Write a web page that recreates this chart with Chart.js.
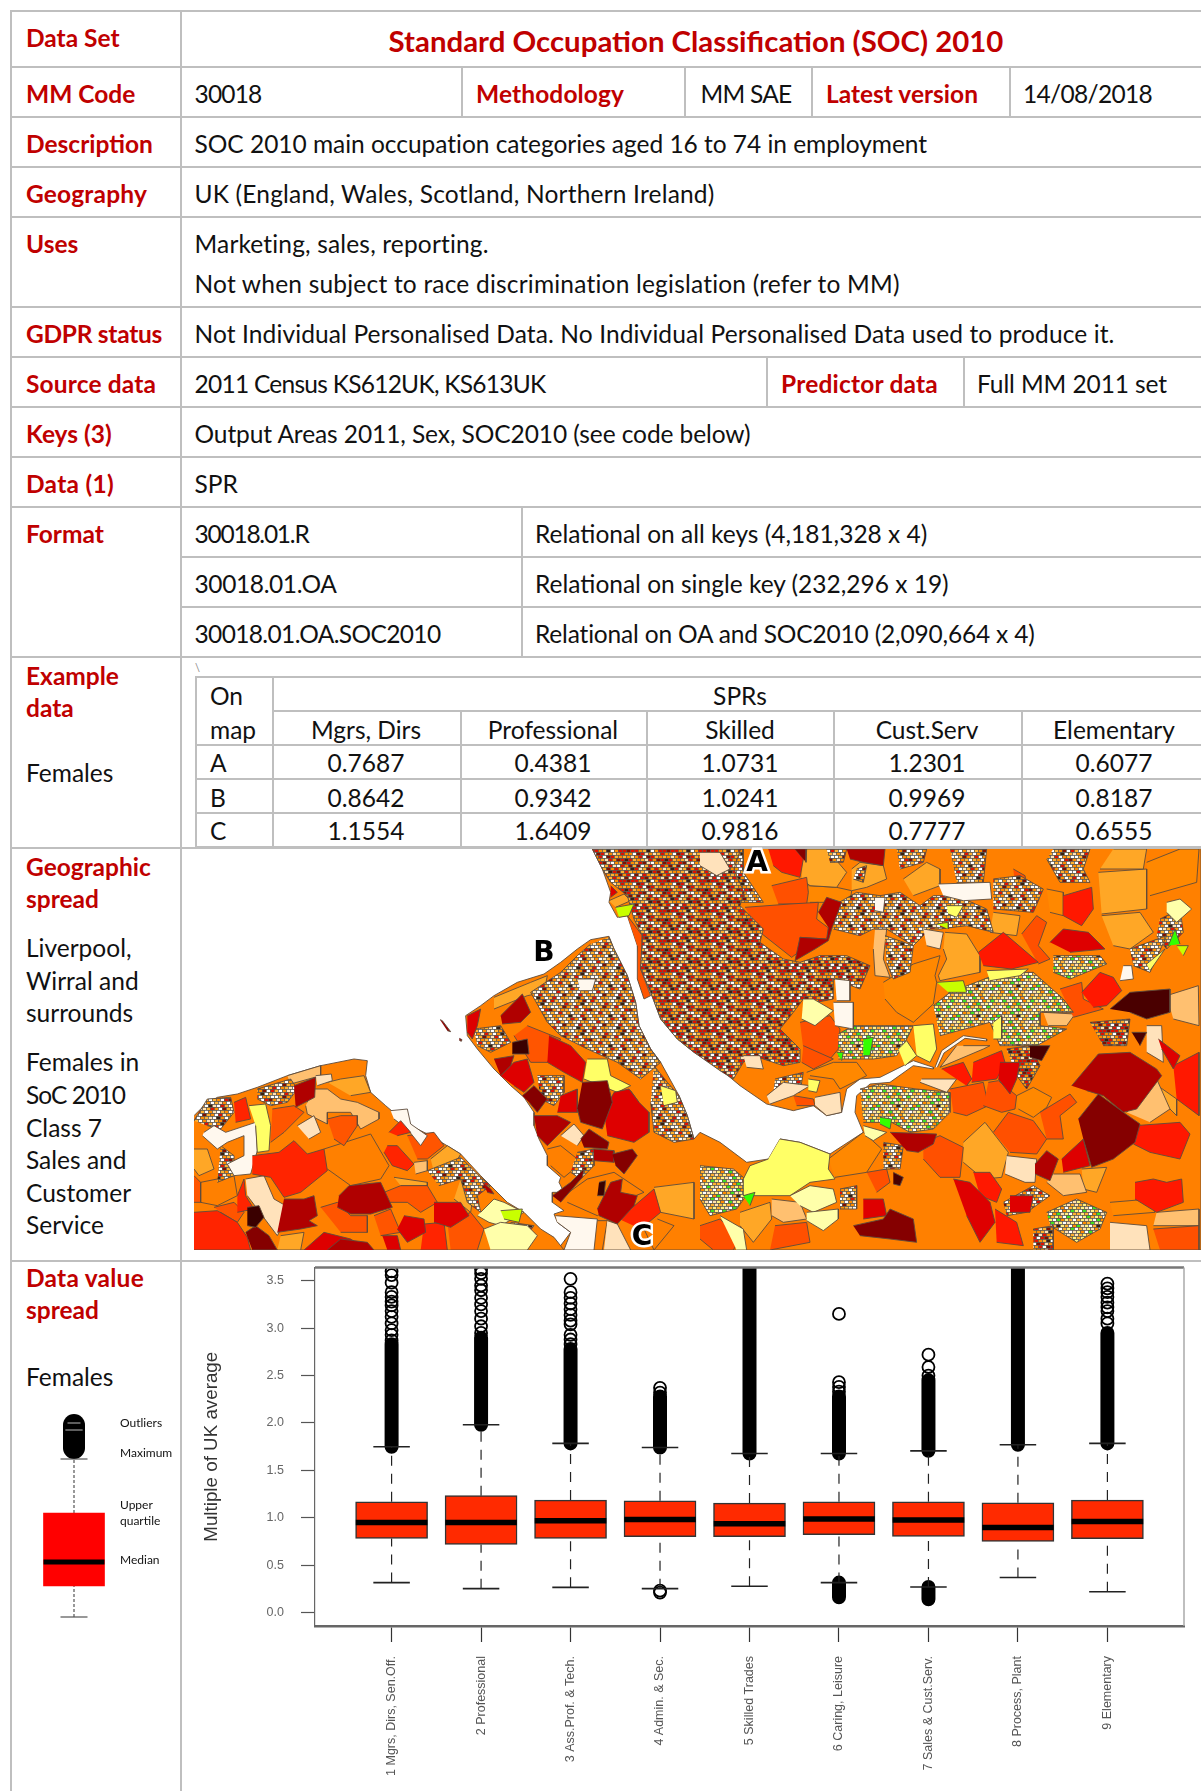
<!DOCTYPE html>
<html>
<head>
<meta charset="utf-8">
<script src="https://cdn.jsdelivr.net/npm/chart.js@4"></script>
<style>
html, body { margin: 0; padding: 0; background: #fff; overflow: hidden; }
#page { position: relative; width: 1201px; height: 1791px; overflow: hidden; font-family: Lato, sans-serif; color: #111; }
#page span { position: absolute; white-space: nowrap; font-size: 24.5px; line-height: 30px; transform: translateY(-50%); }
#page span.r { color: #C00000; font-weight: bold; }
#page span.c { transform: translate(-50%, -50%); }
#page span.k { font-size: 12px; line-height: 14px; }
#page span.m { font-family: "DejaVu Sans", sans-serif; font-weight: bold; font-size: 28px; color: #000; -webkit-text-stroke: 5px #fff; paint-order: stroke fill; transform: translate(-50%, -50%); }
#page i { position: absolute; background: #BFBFBF; display: block; }
canvas { position: absolute; display: block; }
</style>
</head>
<body>
<div id="page">
<!-- rules -->
<i style="left:11px;top:10px;width:1190px;height:2px"></i>
<i style="left:11px;top:66px;width:1190px;height:2px"></i>
<i style="left:11px;top:116px;width:1190px;height:2px"></i>
<i style="left:11px;top:166px;width:1190px;height:2px"></i>
<i style="left:11px;top:216px;width:1190px;height:2px"></i>
<i style="left:11px;top:306px;width:1190px;height:2px"></i>
<i style="left:11px;top:356px;width:1190px;height:2px"></i>
<i style="left:11px;top:406px;width:1190px;height:2px"></i>
<i style="left:11px;top:456px;width:1190px;height:2px"></i>
<i style="left:11px;top:506px;width:1190px;height:2px"></i>
<i style="left:181px;top:556px;width:1020px;height:2px"></i>
<i style="left:181px;top:606px;width:1020px;height:2px"></i>
<i style="left:11px;top:656px;width:1190px;height:2px"></i>
<i style="left:11px;top:847px;width:1190px;height:2px"></i>
<i style="left:11px;top:1260px;width:1190px;height:2px"></i>
<i style="left:10px;top:10px;width:2px;height:1781px"></i>
<i style="left:180px;top:10px;width:2px;height:1781px"></i>
<i style="left:461px;top:67px;width:1.5px;height:50px"></i>
<i style="left:684px;top:67px;width:1.5px;height:50px"></i>
<i style="left:811px;top:67px;width:1.5px;height:50px"></i>
<i style="left:1009px;top:67px;width:1.5px;height:50px"></i>
<i style="left:766px;top:357px;width:1.5px;height:50px"></i>
<i style="left:963px;top:357px;width:1.5px;height:50px"></i>
<i style="left:521px;top:507px;width:1.5px;height:150px"></i>
<!-- example table rules -->
<i style="left:195px;top:676px;width:1006px;height:2px"></i>
<i style="left:272px;top:710px;width:929px;height:2px"></i>
<i style="left:195px;top:744px;width:1006px;height:2px"></i>
<i style="left:195px;top:778px;width:1006px;height:2px"></i>
<i style="left:195px;top:812px;width:1006px;height:2px"></i>
<i style="left:195px;top:846px;width:1006px;height:2px"></i>
<i style="left:195px;top:677px;width:1.5px;height:170px"></i>
<i style="left:272px;top:677px;width:1.5px;height:170px"></i>
<i style="left:460px;top:711px;width:1.5px;height:136px"></i>
<i style="left:646px;top:711px;width:1.5px;height:136px"></i>
<i style="left:833px;top:711px;width:1.5px;height:136px"></i>
<i style="left:1021px;top:711px;width:1.5px;height:136px"></i>

<!-- left column -->
<span class="r" style="left:26px;top:38px">Data Set</span>
<span class="r" style="left:26px;top:94px">MM Code</span>
<span class="r" style="left:26px;top:144px">Description</span>
<span class="r" style="left:26px;top:194px" data-w="121">Geography</span>
<span class="r" style="left:26px;top:244px">Uses</span>
<span class="r" style="left:26px;top:334px" data-w="136">GDPR status</span>
<span class="r" style="left:26px;top:384px" data-w="130">Source data</span>
<span class="r" style="left:26px;top:434px">Keys (3)</span>
<span class="r" style="left:26px;top:484px" data-w="88">Data (1)</span>
<span class="r" style="left:26px;top:534px">Format</span>
<span class="r" style="left:26px;top:676px">Example</span>
<span class="r" style="left:26px;top:708px">data</span>
<span style="left:26px;top:773px">Females</span>
<span class="r" style="left:26px;top:867px">Geographic</span>
<span class="r" style="left:26px;top:899px">spread</span>
<span style="left:26px;top:948px">Liverpool,</span>
<span style="left:26px;top:981px">Wirral and</span>
<span style="left:26px;top:1013px">surrounds</span>
<span style="left:26px;top:1062px">Females in</span>
<span style="left:26px;top:1095px" data-w="99">SoC 2010</span>
<span style="left:26px;top:1128px">Class 7</span>
<span style="left:26px;top:1160px">Sales and</span>
<span style="left:26px;top:1193px">Customer</span>
<span style="left:26px;top:1225px">Service</span>
<span class="r" style="left:26px;top:1278px" data-w="118">Data value</span>
<span class="r" style="left:26px;top:1310px">spread</span>
<span style="left:26px;top:1377px">Females</span>

<!-- main column -->
<span class="r c" style="left:696px;top:41px;font-size:29.4px">Standard Occupation Classification (SOC) 2010</span>
<span style="left:194.5px;top:94px" data-w="67">30018</span>
<span class="r" style="left:476px;top:94px" data-w="148">Methodology</span>
<span style="left:700.5px;top:94px" data-w="91">MM SAE</span>
<span class="r" style="left:826px;top:94px">Latest version</span>
<span style="left:1023px;top:94px" data-w="129">14/08/2018</span>
<span style="left:194.5px;top:144px" data-w="733">SOC 2010 main occupation categories aged 16 to 74 in employment</span>
<span style="left:194.5px;top:194px" data-w="520">UK (England, Wales, Scotland, Northern Ireland)</span>
<span style="left:194.5px;top:244px" data-w="295">Marketing, sales, reporting.</span>
<span style="left:194.5px;top:284px" data-w="706">Not when subject to race discrimination legislation (refer to MM)</span>
<span style="left:194.5px;top:334px" data-w="920">Not Individual Personalised Data. No Individual Personalised Data used to produce it.</span>
<span style="left:194.5px;top:384px" data-w="351">2011 Census KS612UK, KS613UK</span>
<span class="r" style="left:781px;top:384px" data-w="157">Predictor data</span>
<span style="left:977px;top:384px" data-w="190">Full MM 2011 set</span>
<span style="left:194.5px;top:434px" data-w="556">Output Areas 2011, Sex, SOC2010 (see code below)</span>
<span style="left:194.5px;top:484px">SPR</span>
<span style="left:194.5px;top:534px" data-w="114">30018.01.R</span>
<span style="left:535px;top:534px">Relational on all keys (4,181,328 x 4)</span>
<span style="left:194.5px;top:584px" data-w="142">30018.01.OA</span>
<span style="left:535px;top:584px">Relational on single key (232,296 x 19)</span>
<span style="left:194.5px;top:634px" data-w="246">30018.01.OA.SOC2010</span>
<span style="left:535px;top:634px" data-w="500">Relational on OA and SOC2010 (2,090,664 x 4)</span>

<!-- example table -->
<span style="left:195px;top:668px;font-size:11px;color:#888">\</span>
<span style="left:210px;top:696px">On</span>
<span style="left:210px;top:730px">map</span>
<span class="c" style="left:740px;top:696px">SPRs</span>
<span class="c" style="left:366px;top:730px">Mgrs, Dirs</span>
<span class="c" style="left:553px;top:730px">Professional</span>
<span class="c" style="left:740px;top:730px">Skilled</span>
<span class="c" style="left:927px;top:730px">Cust.Serv</span>
<span class="c" style="left:1114px;top:730px">Elementary</span>
<span style="left:210px;top:763px">A</span>
<span class="c" style="left:366px;top:763px">0.7687</span>
<span class="c" style="left:553px;top:763px">0.4381</span>
<span class="c" style="left:740px;top:763px">1.0731</span>
<span class="c" style="left:927px;top:763px">1.2301</span>
<span class="c" style="left:1114px;top:763px">0.6077</span>
<span style="left:210px;top:798px">B</span>
<span class="c" style="left:366px;top:798px">0.8642</span>
<span class="c" style="left:553px;top:798px">0.9342</span>
<span class="c" style="left:740px;top:798px">1.0241</span>
<span class="c" style="left:927px;top:798px">0.9969</span>
<span class="c" style="left:1114px;top:798px">0.8187</span>
<span style="left:210px;top:831px">C</span>
<span class="c" style="left:366px;top:831px">1.1554</span>
<span class="c" style="left:553px;top:831px">1.6409</span>
<span class="c" style="left:740px;top:831px">0.9816</span>
<span class="c" style="left:927px;top:831px">0.7777</span>
<span class="c" style="left:1114px;top:831px">0.6555</span>

<canvas id="map" width="1007" height="401" style="left:194px;top:849px"></canvas>
<span class="m" style="left:757px;top:862px">A</span>
<span class="m" style="left:544px;top:952px">B</span>
<span class="m" style="left:642px;top:1236px">C</span>

<canvas id="key" width="108" height="230" style="left:20px;top:1400px"></canvas>
<span class="k" style="left:120px;top:1423px">Outliers</span>
<span class="k" style="left:120px;top:1453px">Maximum</span>
<span class="k" style="left:120px;top:1505px">Upper</span>
<span class="k" style="left:120px;top:1521px">quartile</span>
<span class="k" style="left:120px;top:1560px">Median</span>

<canvas id="boxes" width="1019" height="535" style="left:182px;top:1243px"></canvas>
</div>

<script>
// box plot
var categories = ["1 Mgrs, Dirs, Sen.Off.", "2 Professional", "3 Ass.Prof. & Tech.", "4 Admin. & Sec.", "5 Skilled Trades",
    "6 Caring, Leisure", "7 Sales & Cust.Serv.", "8 Process, Plant", "9 Elementary"];
var yTicks = [0, 0.5, 1, 1.5, 2, 2.5, 3, 3.5];
var whiskerLow = [0.315, 0.251, 0.265, 0.251, 0.276, 0.315, 0.269, 0.369, 0.219];
var boxLow = [0.781, 0.717, 0.781, 0.799, 0.799, 0.82, 0.803, 0.749, 0.778];
var medians = [0.949, 0.949, 0.967, 0.982, 0.935, 0.985, 0.975, 0.896, 0.96];
var boxHigh = [1.168, 1.232, 1.186, 1.179, 1.154, 1.168, 1.168, 1.157, 1.186];
var whiskerHigh = [1.748, 1.98, 1.784, 1.741, 1.677, 1.677, 1.705, 1.77, 1.784];
// solid runs of overlapping outliers above the whisker
var solidTop = [2.83, 2.9, 2.78, 2.28, 3.7, 2.28, 2.45, 3.7, 2.95];
// solid runs below the whisker, only two groups have them
var solidLowFrom = [null, null, null, null, null, 0.16, 0.14, null, null];
var outliers = [
    [2.87, 2.93, 2.98, 3.05, 3.12, 3.18, 3.24, 3.28, 3.33, 3.38, 3.48, 3.56, 3.6],
    [2.95, 3.02, 3.1, 3.18, 3.25, 3.32, 3.4, 3.45, 3.52, 3.58, 3.62],
    [2.83, 2.88, 2.93, 3.04, 3.08, 3.14, 3.2, 3.26, 3.32, 3.38, 3.52],
    [0.21, 0.23, 2.32, 2.37],
    [],
    [2.33, 2.38, 2.43, 3.15],
    [2.5, 2.59, 2.72],
    [],
    [3.05, 3.1, 3.18, 3.22, 3.27, 3.33, 3.38, 3.42, 3.47]
];

// the small key in the left column, in units of its own
var keyWhisker = [0, 1.58];
var keyBox = [0.31, 1.04];
var keyMedian = 0.55;
var keySolid = [1.69, 1.92];

// map outlines in map units (three to a page pixel)
var mainland = [1195,0, 1225,60, 1250,130, 1245,160, 1270,205, 1300,200, 1310,230, 1330,290, 1340,360, 1370,430, 1400,510, 1450,570, 1500,610,
    1578,660, 1638,710, 1718,765, 1798,785, 1858,770, 1898,800, 1943,790, 1958,720, 1998,690, 2058,685, 2128,650, 2158,635, 2218,655,
    2218,660, 2158,650, 2088,700, 2028,705, 1988,740, 1983,790, 2008,850, 1908,915, 1818,880, 1758,870, 1723,930, 1658,940, 1578,880, 1518,850,
    1500,870, 1480,800, 1455,740, 1400,640, 1370,600, 1335,530, 1325,460, 1300,380, 1260,300, 1245,262, 1190,272, 1150,300, 1100,340, 1050,375,
    970,400, 900,440, 860,470, 815,500, 820,560, 850,600, 900,660, 950,710, 990,745, 1020,790, 1020,830, 1035,870, 1060,920, 1060,950, 1100,985,
    1095,1000, 1110,1030, 1075,1030, 1075,1060, 1110,1085, 1080,1095, 1090,1120, 1130,1150, 1090,1203, 3021,1203, 3021,0];
var wales = [0,800, 30,770, 70,745, 130,735, 190,715, 280,680, 380,650, 480,630, 520,635, 515,680, 530,730, 575,770, 640,825, 710,860, 800,915,
    860,980, 940,1060, 990,1090, 1040,1140, 1080,1165, 1110,1203, 0,1203];
var islands = [[738,512, 745,515, 770,548, 760,545], [796,568, 804,572, 802,577, 796,574]];

// west half of the map
var westOrange = [[390,900, 530,855, 585,950, 560,990, 470,1010, 400,960], [20,1000, 120,980, 130,1040, 70,1070, 20,1060], [1110,1040, 1180,990, 1260,970, 1350,1030, 1300,1050, 1210,1100, 1120,1060],
    [1275,740, 1310,725, 1335,760, 1305,785, 1280,770], [1060,900, 1100,890, 1150,930, 1140,960, 1110,985, 1070,950], [1195,1115, 1240,1115, 1225,1203, 1190,1203], [1390,1110, 1440,1130, 1380,1203, 1350,1140]];
var westLight = [[710,930, 760,890, 800,915, 770,970, 720,970], [800,990, 840,1020, 830,1090, 780,1050], [0,900, 40,900, 60,960, 15,980, 0,960], [1380,1015, 1500,1000, 1500,1110, 1400,1090],
    [1340,280, 1380,280, 1380,320, 1350,380, 1340,350], [1245,155, 1290,135, 1310,155, 1265,175], [400,700, 440,690, 510,680, 530,730, 470,740],
    [900,445, 1010,400, 1060,380, 1050,430, 1000,440, 900,480], [260,1160, 330,1150, 320,1203, 250,1203], [600,985, 700,1000, 700,1010, 620,1010]];
var westPale = [[280,680, 380,650, 380,680, 290,705], [340,760, 350,720, 400,720, 440,750, 490,760, 555,790, 555,810, 500,840, 470,790, 400,790, 400,825, 340,795, 335,770], [660,940, 700,935, 700,965, 665,975]];
var westDeep = [[400,810, 440,800, 490,800, 490,830, 450,890, 420,870], [235,780, 300,770, 330,790, 270,850, 230,880], [640,860, 720,850, 750,890, 700,930, 670,930], [1300,200, 1345,260, 1345,280, 1340,360, 1370,440, 1350,450, 1330,390, 1330,290],
    [570,1030, 620,1010, 700,1010, 730,1060, 680,1090, 640,1060, 580,1060], [380,1075, 430,1060, 470,1100, 520,1100, 520,1150, 440,1150], [760,1120, 830,1090, 870,1140, 850,1203, 770,1203], [60,1075, 120,1060, 150,1090, 130,1120, 80,1090],
    [1000,530, 1100,570, 1060,640, 1010,640, 960,560], [0,980, 20,1000, 20,1060, 0,1060], [540,1100, 590,1080, 620,1150, 560,1160]];
var westCream = [[365,680, 412,675, 415,695, 370,710], [310,830, 360,800, 380,850, 345,870], [155,990, 210,980, 240,1050, 275,1070, 270,1120, 250,1160, 205,1100, 160,1040], [1100,860, 1140,825, 1170,860, 1150,890], [1240,1115, 1270,1125, 1310,1203, 1230,1203]];
var westWhite = [[30,850, 60,830, 95,850, 185,820, 190,905, 170,975, 120,980, 100,945, 150,920, 150,860, 100,880, 70,900, 25,860], [590,785, 640,780, 650,825, 700,860, 680,890, 640,840, 600,810], [1085,1100, 1210,1110, 1200,1203, 1110,1203, 1130,1150, 1090,1120], [1150,390, 1205,390, 1195,425, 1160,425]];
var westYellow = [[165,770, 215,765, 230,830, 225,905, 190,910, 185,830], [1180,630, 1240,630, 1250,680, 1310,710, 1270,730, 1170,690], [1400,710, 1445,725, 1450,760, 1410,770]];
var westPaleYellow = [[860,1090, 900,1050, 930,1060, 990,1090, 920,1130, 885,1120, 850,1100], [870,1140, 920,1120, 1000,1130, 1030,1160, 1000,1203, 890,1203]];
var westLime = [[920,1085, 985,1080, 975,1120, 930,1110], [1265,175, 1320,165, 1305,200, 1275,205]];
var westMixed = [[1245,265, 1260,300, 1300,380, 1325,460, 1335,530, 1370,600, 1400,640, 1340,690, 1270,640, 1180,600, 1100,560, 1060,520, 1010,430, 1100,370, 1150,320, 1190,285],
    [1380,650, 1420,700, 1455,740, 1480,800, 1500,870, 1440,880, 1380,850, 1370,760], [0,815, 40,750, 110,745, 120,790, 80,840, 40,830], [190,720, 290,690, 310,720, 280,760, 230,770, 190,750],
    [700,965, 800,925, 860,985, 890,1010, 850,1040, 860,1090, 820,1060, 800,990, 735,1010], [840,540, 920,530, 950,580, 890,610, 850,590], [1030,680, 1110,680, 1110,730, 1080,770, 1040,750],
    [1150,910, 1200,900, 1200,950, 1160,990, 1130,970], [950,1120, 1020,1130, 990,1170, 950,1160], [70,1000, 120,980, 120,920, 80,890]];
var westDense = [[1195,0, 1225,60, 1250,100, 1300,140, 1320,210, 1345,260, 1340,360, 1370,430, 1400,510, 1450,570, 1500,610, 1578,665, 1618,690, 1648,640, 1678,620, 1768,650, 1818,640, 1818,600, 1758,540,
    1798,490, 1828,450, 1868,460, 1918,450, 1918,390, 1998,420, 2028,350, 1958,320, 1878,320, 1818,340, 1768,330, 1698,280, 1708,240, 1638,170, 1650,130, 1620,60, 1640,0]];
var westRed = [[175,920, 255,910, 300,875, 340,915, 390,900, 400,965, 320,1030, 270,1045, 230,985, 175,975], [585,850, 620,815, 650,850, 610,860], [580,890, 610,890, 660,945, 640,965, 595,950, 570,910],
    [0,1090, 70,1085, 130,1120, 160,1165, 170,1203, 0,1203], [690,1125, 750,1120, 760,1203, 680,1203], [120,760, 155,745, 170,810, 125,820], [1275,1110, 1380,1020, 1400,1090, 1340,1140], [130,1040, 150,990, 155,1040, 180,1080, 130,1090]];
var westCrimson = [[630,1100, 690,1110, 695,1150, 640,1180, 610,1140], [720,1060, 800,1060, 825,1100, 770,1135, 720,1120], [330,1203, 390,1150, 470,1170, 520,1203], [565,1160, 610,1160, 620,1203, 580,1203],
    [920,680, 960,640, 1000,630, 1020,700, 990,730, 960,710], [1065,560, 1130,590, 1175,640, 1165,700, 1110,670, 1060,640], [1230,790, 1260,730, 1305,720, 1335,760, 1365,790, 1365,850, 1320,880, 1240,860],
    [820,500, 860,480, 850,530, 835,570, 820,550], [1250,110, 1270,130, 1250,145], [1100,740, 1150,720, 1150,790, 1090,790]];
var westDark = [[270,1050, 330,1050, 360,1040, 370,1100, 345,1115, 370,1130, 320,1140, 250,1150], [435,1040, 465,1010, 560,1000, 595,1075, 530,1095, 470,1095, 430,1075], [300,710, 365,685, 362,745, 305,775],
    [400,1203, 440,1170, 520,1180, 540,1203], [920,500, 985,435, 1010,490, 980,520, 925,525], [900,630, 960,620, 950,650, 920,680], [1020,800, 1090,800, 1130,820, 1100,850, 1060,890, 1030,860],
    [1200,900, 1260,905, 1260,940, 1200,935], [1210,1080, 1250,1000, 1285,990, 1280,1030, 1330,1040, 1320,1070, 1270,1125, 1215,1100], [865,1000, 890,1020, 900,1035, 880,1030]];
var westMaroon = [[155,1150, 185,1130, 225,1160, 250,1203, 175,1203], [985,740, 1020,710, 1060,750, 1030,790, 1005,760], [1165,700, 1240,695, 1255,760, 1225,840, 1160,820, 1150,780], [1075,1040, 1130,1000, 1170,960, 1165,985, 1100,1060],
    [1255,915, 1315,900, 1330,920, 1290,975, 1265,950], [1160,870, 1185,840, 1245,880, 1240,900, 1170,895]];
var westBlack = [[160,1075, 195,1070, 210,1105, 185,1135, 160,1130], [955,580, 1000,570, 1005,615, 955,615], [1215,1000, 1235,995, 1230,1040, 1210,1040]];

// east half of the map, in its own crop, shifted when it is drawn
var eastOrange = [[325,110, 410,115, 455,125, 450,160, 330,160], [550,400, 640,345, 720,320, 705,380, 710,400, 700,465, 640,520, 590,490, 555,450], [385,930, 490,850, 545,900, 500,970, 405,985],
    [950,740, 1000,715, 1055,745, 1040,775, 1000,805, 955,780], [320,670, 400,640, 470,640, 500,680, 420,720, 400,690, 330,680], [1230,1060, 1350,1050, 1365,1090, 1240,1100], [1340,40, 1440,0, 1497,0, 1490,100, 1350,140], [1040,120, 1090,130, 1090,200, 1050,190]];
var eastLight = [[310,0, 380,0, 440,70, 410,115, 330,110, 305,90], [455,60, 480,40, 550,50, 560,90, 500,115, 455,125], [735,250, 800,255, 840,320, 840,370, 720,395, 715,380, 740,330, 730,300], [1195,70, 1340,60, 1340,180, 1205,195],
    [1205,200, 1320,190, 1360,250, 1290,300, 1240,290], [610,90, 680,40, 720,60, 720,110, 640,140], [1145,960, 1220,955, 1190,1030, 1150,1020], [120,1090, 210,1060, 215,1110, 160,1180, 120,1130],
    [790,880, 855,820, 925,910, 905,985, 850,990, 790,940], [1380,715, 1430,750, 1430,800, 1410,780], [880,190, 960,200, 950,260, 870,250], [1240,0, 1340,0, 1330,60, 1200,60]];
var eastPale = [[525,240, 560,240, 550,330, 570,385, 525,380, 520,300], [790,590, 870,590, 850,600, 720,655, 770,590], [1030,490, 1125,495, 1100,530, 1045,530], [1060,975, 1140,975, 1160,1030, 1090,1040, 1040,1000],
    [1370,1090, 1497,1080, 1497,1130, 1360,1130], [215,1050, 300,1060, 320,1110, 250,1120, 215,1100], [1280,790, 1370,690, 1410,780, 1350,820], [1400,440, 1495,410, 1497,530, 1420,510]];
var eastDeep = [[215,110, 320,85, 325,130, 320,165, 235,165], [135,175, 270,165, 355,160, 350,210, 390,240, 380,270, 300,265, 295,310, 275,325, 180,250], [500,970, 560,960, 570,1000, 530,1030], [0,1130, 60,1110, 120,1170, 100,1203, 40,1203, 0,1170],
    [750,720, 850,700, 865,770, 800,800, 760,790], [865,700, 895,695, 950,740, 945,780, 905,790, 850,770], [880,850, 925,790, 1000,815, 1040,870, 1010,915, 930,910], [1020,790, 1110,735, 1130,760, 1080,800, 1090,870, 1040,870],
    [1080,420, 1145,400, 1150,450, 1210,480, 1120,505], [965,255, 1010,200, 1040,220, 1015,290, 1050,330, 1015,345], [300,520, 390,500, 420,540, 415,600, 390,630, 310,600], [310,590, 400,630, 340,660, 305,640], [280,740, 340,750, 345,770, 290,770],
    [940,60, 975,80, 980,110, 945,110], [670,880, 720,860, 790,895, 780,985, 720,985, 670,930], [225,1130, 320,1120, 330,1180, 210,1203], [1360,1140, 1497,1130, 1497,1203, 1380,1203]];
var eastMixed = [[400,170, 470,130, 540,140, 600,130, 660,170, 700,140, 770,140, 860,180, 880,250, 800,230, 720,240, 690,240, 640,290, 560,240, 520,240, 480,260, 400,240], [555,260, 640,290, 630,370, 580,390, 560,340], [880,90, 960,80, 1030,120, 1000,190, 880,180],
    [1060,0, 1170,0, 1150,60, 1170,100, 1080,100, 1040,30], [750,0, 860,0, 850,100, 770,100], [1380,210, 1440,180, 1450,250, 1400,300, 1370,260], [1290,300, 1400,260, 1350,370, 1300,350], [380,0, 440,0, 430,40, 390,40], [910,1060, 1000,1010, 1050,1040, 980,1090, 920,1100],
    [420,1020, 470,1010, 470,1080, 420,1080], [225,690, 310,670, 300,730, 220,730], [550,880, 610,890, 600,960, 550,960], [60,0, 130,0, 130,70, 190,160, 120,160, 90,100], [470,60, 500,50, 490,100, 460,90], [590,0, 680,0, 670,40, 600,60]];
var eastDense = [[1170,520, 1290,510, 1280,590, 1210,590], [920,600, 990,590, 1020,650, 980,720, 950,680], [1000,1140, 1060,1130, 1060,1203, 1000,1203]];
var eastGreen = [[700,470, 750,430, 905,370, 1000,370, 1090,450, 1120,490, 1020,490, 1020,530, 1100,540, 1010,590, 900,590, 870,520, 720,560], [415,555, 460,530, 640,530, 620,570, 590,620, 520,630, 415,630], [480,720, 540,705, 650,720, 750,730, 750,790, 700,840, 630,850, 575,820, 490,820],
    [1040,1090, 1130,1050, 1220,1090, 1200,1140, 1130,1180, 1050,1130], [0,950, 100,960, 160,1010, 110,1080, 30,1100, 0,1050], [1060,320, 1200,320, 1220,345, 1110,390, 1060,370]];
var eastCream = [[0,10, 60,10, 90,60, 50,80, 0,50], [130,620, 180,620, 190,660, 140,655], [1340,530, 1385,530, 1390,640, 1340,610], [920,920, 1010,930, 1005,1000, 975,1000, 915,975], [665,690, 770,690, 740,730, 660,700], [345,745, 420,730, 425,790, 380,800, 345,770],
    [200,740, 250,700, 330,710, 280,740, 210,765], [1230,1120, 1340,1130, 1350,1203, 1230,1203], [670,240, 730,250, 720,300, 680,290]];
var eastWhite = [[405,390, 450,395, 450,455, 410,455], [400,460, 460,460, 460,540, 405,530], [525,145, 555,145, 550,190, 525,185], [1270,350, 1295,350, 1300,390, 1260,395], [715,105, 870,100, 875,150, 790,155, 730,140],
    [705,655, 725,605, 790,560, 860,570, 860,576, 795,568, 732,612, 712,655]];
var eastYellow = [[240,870, 300,880, 390,915, 385,960, 405,990, 330,1000, 270,1040, 130,1040, 130,990, 150,950, 205,930], [640,530, 700,525, 710,600, 690,640, 650,620], [325,690, 360,695, 350,730, 325,725], [1340,345, 1395,300, 1350,365], [860,365, 985,360, 960,380, 870,395],
    [880,520, 905,500, 905,570, 880,570], [740,170, 790,170, 770,205, 745,195], [595,600, 620,575, 650,620, 615,650]];
var eastPaleYellow = [[310,450, 340,450, 400,485, 345,530, 305,510], [270,1040, 330,1010, 400,1020, 410,1060, 340,1090, 300,1070], [320,1090, 415,1080, 415,1110, 370,1145, 320,1115], [490,830, 560,850, 520,875, 495,860], [1400,160, 1440,150, 1475,180, 1430,220, 1400,190],
    [60,1100, 130,1140, 140,1203, 110,1203]];
var eastLime = [[710,400, 790,395, 800,430, 745,430], [710,225, 745,220, 745,240], [1430,290, 1465,290, 1450,320]];
var eastBrightGreen = [[540,805, 575,810, 570,840, 540,825], [130,1040, 165,1030, 150,1070], [490,570, 520,565, 510,620, 490,620], [410,610, 430,610, 425,635], [1405,290, 1425,240, 1440,285]];
var eastRed = [[205,0, 285,0, 310,30, 300,85, 245,70, 220,50], [835,310, 910,250, 945,280, 1015,340, 935,360, 850,350], [1090,140, 1175,115, 1180,180, 1145,230, 1090,200], [1145,430, 1200,370, 1240,385, 1265,425, 1220,470, 1180,475], [725,660, 790,640, 815,690, 800,710],
    [820,640, 905,605, 915,640, 890,690, 815,700], [1305,830, 1440,820, 1470,855, 1440,930, 1350,910, 1300,885], [1420,650, 1497,610, 1497,800, 1430,750], [1305,1000, 1360,990, 1400,1000, 1445,990, 1450,1060, 1370,1090, 1305,1050], [820,970, 870,970, 905,1020, 890,1060, 840,1040],
    [885,1080, 950,1120, 970,1190, 890,1180]];
var eastCrimson = [[1050,280, 1090,240, 1165,250, 1215,300, 1110,310], [900,640, 960,640, 950,690, 930,735, 895,690], [1085,930, 1150,870, 1170,950, 1090,970], [760,990, 810,1000, 870,1060, 885,1120, 840,1180, 800,1100], [930,1040, 1000,1040, 990,1090, 930,1090],
    [490,1050, 550,1050, 560,1100, 490,1110], [1375,570, 1440,620, 1420,660, 1385,600]];
var eastDark = [[355,190, 380,145, 425,160, 395,240, 385,275, 345,300, 285,335, 300,265, 380,270, 385,235], [440,0, 555,0, 550,50, 490,40, 450,30], [1115,710, 1195,615, 1290,610, 1370,660, 1385,680, 1310,780, 1270,790, 1210,740, 1160,725], [1005,945, 1040,905, 1075,930, 1050,995, 1005,975],
    [570,850, 710,855, 700,885, 655,910, 620,905]];
var eastMaroon = [[1135,810, 1195,735, 1270,790, 1320,825, 1305,880, 1240,930, 1175,955, 1150,870], [460,1130, 550,1110, 570,1080, 640,1110, 650,1180, 570,1170, 480,1160], [285,0, 320,0, 318,40]];
var eastBlack = [[1230,480, 1290,430, 1410,420, 1410,490, 1340,510, 1290,490], [990,590, 1050,590, 1025,635, 990,625], [1295,550, 1340,550, 1320,590], [580,970, 610,985, 600,1010, 580,1005]];

function makeTile(rows, palette) {
    var w = 4, h = 3;
    var tile = document.createElement("canvas");
    tile.width = rows[0].length * w;
    tile.height = rows.length * h;
    var c = tile.getContext("2d");
    c.strokeStyle = "#5c5850";
    c.lineWidth = 0.8;
    for (var r = 0; r < rows.length; r++) {
        for (var k = -1; k < rows[r].length; k++) {
            var key = rows[r].charAt((k + rows[r].length) % rows[r].length);
            var x = k * w + (r % 2 ? w / 2 : 0);
            c.fillStyle = palette[key];
            c.fillRect(x, r * h, w, h);
            c.strokeRect(x + 0.5, r * h + 0.5, w, h);
        }
    }
    return c.createPattern(tile, "repeat");
}

var tileColors = { o: "#FF8C00", l: "#FFB030", r: "#E01000", d: "#801000", k: "#3a2010", w: "#FFFFFF", y: "#FFF080", g: "#40E020", c: "#FFE0B0" };
var densePattern = makeTile(["rolkworadr", "drcoclroow", "orwdrlolocw", "olcrodrkrl", "lrdcwoldro", "dwlrcwrodl", "rcldoroclk", "olckrdlrlo", "dcrolodorw", "wrdlrocdcr"].map(function (s) { return s.slice(0, 10); }), tileColors);
var mixedPattern = makeTile(["lwocwlodwr", "ocrlwokwlc", "wldocrwolw", "colwlowrdo", "wrcowlcowl", "lowkcwrlwo", "owclrowdlc", "rlwocwloww", "cwdlowrcol", "wolcwkowlr"], tileColors);
var greenPattern = makeTile(["ywgcylwoyg", "lylwogcywl", "cwyglylwgy", "lycywgoylw", "ywolgcywcy", "gcywlkylwo", "wlcycowlyg", "yowgcylcwc", "clylowoycl", "lycwgyowly"], tileColors);

function toPoints(flat, shift) {
    var pts = [];
    for (var i = 0; i < flat.length; i += 2) {
        pts.push({ x: flat[i] + shift, y: flat[i + 1] });
    }
    return pts;
}

var mapDatasets = [];
function addPolys(polys, color, shift) {
    polys.forEach(function (poly) {
        mapDatasets.unshift({
            data: toPoints(poly, shift || 0),
            showLine: true,
            fill: "shape",
            backgroundColor: color,
            borderColor: "#5e4c3c",
            borderWidth: 0.9,
            pointRadius: 0,
            tension: 0
        });
    });
}

var EAST = 1518;
addPolys([mainland, wales], "#FF8000");
addPolys(islands, "#900000");
addPolys(westOrange, "#FF8000");
addPolys(eastOrange, "#FF8800", EAST);
addPolys(westLight, "#FFA726");
addPolys(eastLight, "#FFA726", EAST);
addPolys(westPale, "#FFC070");
addPolys(eastPale, "#FFC070", EAST);
addPolys(westDeep, "#FF5500");
addPolys(eastDeep, "#FF5000", EAST);
addPolys(westMixed, mixedPattern);
addPolys(eastMixed, mixedPattern, EAST);
addPolys(eastGreen, greenPattern, EAST);
addPolys(westDense, densePattern);
addPolys(eastDense, densePattern, EAST);
addPolys(westCream, "#FFE2BB");
addPolys(eastCream, "#FFE2BB", EAST);
addPolys(westWhite, "#FFF8EE");
addPolys(eastWhite, "#FFF8EE", EAST);
addPolys(westYellow, "#FFFF66");
addPolys(eastYellow, "#FFFF66", EAST);
addPolys(westPaleYellow, "#FFFFAA");
addPolys(eastPaleYellow, "#FFFFAA", EAST);
addPolys(westLime, "#C8FF00");
addPolys(eastLime, "#C8FF00", EAST);
addPolys(eastBrightGreen, "#33FF00", EAST);
addPolys(westRed, "#FF2400");
addPolys(eastRed, "#FF1800", EAST);
addPolys(westCrimson, "#DE0000");
addPolys(eastCrimson, "#DE0000", EAST);
addPolys(westDark, "#B00000");
addPolys(eastDark, "#B00000", EAST);
addPolys(westMaroon, "#850000");
addPolys(eastMaroon, "#850000", EAST);
addPolys(westBlack, "#3A0000");
addPolys(eastBlack, "#4A0000", EAST);

new Chart(document.getElementById("map"), {
    type: "scatter",
    data: { datasets: mapDatasets },
    options: {
        responsive: false,
        animation: false,
        events: [],
        layout: { padding: 0, autoPadding: false },
        plugins: { legend: { display: false }, tooltip: { enabled: false } },
        scales: {
            x: { type: "linear", display: false, min: 0, max: 3021 },
            y: { type: "linear", display: false, min: 0, max: 1203, reverse: true }
        }
    }
});

// strokes are joined into one dataset, with a null y as the gap between them
function strokes(pairs) {
    var pts = [];
    pairs.forEach(function (p) {
        pts.push({ x: p[0], y: p[1] }, { x: p[2], y: p[3] }, { x: p[2], y: null });
    });
    return pts;
}

var whiskerPairs = [], capPairs = [], medianPairs = [], solidPairs = [], outlierPoints = [];
categories.forEach(function (name, i) {
    var x = i + 1;
    whiskerPairs.push([x, boxHigh[i], x, whiskerHigh[i]], [x, whiskerLow[i], x, boxLow[i]]);
    capPairs.push([x - 0.204, whiskerHigh[i], x + 0.204, whiskerHigh[i]], [x - 0.204, whiskerLow[i], x + 0.204, whiskerLow[i]]);
    medianPairs.push([x - 0.4, medians[i], x + 0.4, medians[i]]);
    solidPairs.push([x, whiskerHigh[i], x, solidTop[i]]);
    if (solidLowFrom[i] !== null) {
        solidPairs.push([x, solidLowFrom[i], x, whiskerLow[i]]);
    }
    outliers[i].forEach(function (v) {
        outlierPoints.push({ x: x, y: v });
    });
});

function strokeSet(pairs, color, width, order, extra) {
    return Object.assign({
        type: "line",
        data: strokes(pairs),
        borderColor: color,
        borderWidth: width,
        pointRadius: 0,
        spanGaps: false,
        fill: false,
        order: order
    }, extra || {});
}

var framePlugin = {
    id: "frame",
    afterDatasetsDraw: function (chart) {
        var a = chart.chartArea, c = chart.ctx;
        c.save();
        c.strokeStyle = "#777";
        c.lineWidth = 2.5;
        c.beginPath();
        c.moveTo(a.left, a.top);
        c.lineTo(a.right, a.top);
        c.stroke();
        c.strokeStyle = "#aaa";
        c.lineWidth = 1.5;
        c.beginPath();
        c.moveTo(a.right, a.top);
        c.lineTo(a.right, a.bottom);
        c.stroke();
        c.restore();
    }
};

new Chart(document.getElementById("boxes"), {
    type: "bar",
    data: {
        datasets: [
            {
                type: "bar",
                data: categories.map(function (name, i) { return { x: i + 1, y: [boxLow[i], boxHigh[i]] }; }),
                backgroundColor: "#FF2A00",
                borderColor: "#333",
                borderWidth: 1.5,
                borderSkipped: false,
                barThickness: 72,
                order: 2
            },
            strokeSet(medianPairs, "#000", 5.5, 1),
            strokeSet(whiskerPairs, "#222", 1.2, 4, { borderDash: [10, 8] }),
            strokeSet(capPairs, "#222", 1.6, 3),
            strokeSet(solidPairs, "#000", 14, 5, { borderCapStyle: "round" }),
            {
                type: "scatter",
                data: outlierPoints,
                showLine: false,
                pointRadius: 6,
                borderWidth: 1.8,
                borderColor: "#000",
                backgroundColor: "rgba(0,0,0,0)",
                order: 5
            }
        ]
    },
    options: {
        responsive: false,
        animation: false,
        events: [],
        layout: { padding: { top: 8, right: 17, left: 0, bottom: 0 }, autoPadding: false },
        plugins: { legend: { display: false }, tooltip: { enabled: false } },
        scales: {
            x: {
                type: "linear",
                min: 0.144,
                max: 9.856,
                offset: false,
                afterBuildTicks: function (axis) {
                    axis.ticks = categories.map(function (name, i) { return { value: i + 1 }; });
                },
                afterFit: function (axis) { axis.height = 152; },
                grid: { display: true, offset: false, drawOnChartArea: false, tickLength: 16, tickColor: "#333", tickWidth: 1.2 },
                border: { color: "#666", width: 2.5 },
                ticks: {
                    autoSkip: false,
                    minRotation: 90,
                    maxRotation: 90,
                    padding: 14,
                    color: "#555",
                    font: { family: "'Liberation Sans'", size: 12.5 },
                    callback: function (value) { return categories[value - 1]; }
                }
            },
            y: {
                type: "linear",
                min: -0.143,
                max: 3.64,
                afterBuildTicks: function (axis) {
                    axis.ticks = yTicks.map(function (v) { return { value: v }; });
                },
                afterFit: function (axis) { axis.width = 133; },
                grid: { display: true, drawOnChartArea: false, tickLength: 14, tickColor: "#555", tickWidth: 1.2 },
                border: { color: "#666", width: 1.2 },
                title: {
                    display: true,
                    text: "Multiple of UK average",
                    color: "#333",
                    padding: { top: 19, bottom: 0 },
                    font: { family: "'Liberation Sans'", size: 18.8 }
                },
                ticks: {
                    padding: 17,
                    color: "#666",
                    font: { family: "'Liberation Sans'", size: 12.5 },
                    callback: function (value) { return value.toFixed(1); }
                }
            }
        }
    },
    plugins: [framePlugin]
});

new Chart(document.getElementById("key"), {
    type: "bar",
    data: {
        datasets: [
            {
                type: "bar",
                data: [{ x: 0.5, y: keyBox }],
                backgroundColor: "#FF0000",
                barThickness: 61,
                order: 2
            },
            strokeSet([[0.218, keyMedian, 0.782, keyMedian]], "#000", 5, 1),
            strokeSet([[0.5, keyWhisker[0], 0.5, keyBox[0]], [0.5, keyBox[1], 0.5, keyWhisker[1]]], "#555", 1.2, 3, { borderDash: [3, 2] }),
            strokeSet([[0.375, keyWhisker[0], 0.625, keyWhisker[0]], [0.375, keyWhisker[1], 0.625, keyWhisker[1]]], "#333", 1.2, 3),
            strokeSet([[0.44, 1.94, 0.56, 1.94], [0.42, 1.87, 0.58, 1.87]], "#bbb", 1, 3),
            strokeSet([[0.5, keySolid[0], 0.5, keySolid[1]]], "#000", 22, 4, { borderCapStyle: "round" })
        ]
    },
    options: {
        responsive: false,
        animation: false,
        events: [],
        layout: { padding: 0, autoPadding: false },
        plugins: { legend: { display: false }, tooltip: { enabled: false } },
        scales: {
            x: { type: "linear", display: false, min: 0, max: 1, offset: false },
            y: { type: "linear", display: false, min: -0.13, max: 2.17 }
        }
    }
});

// Lato runs wider on digits than the original face, so pull each line to the width in the picture
var fitted = document.querySelectorAll("#page span[data-w]");
for (var f = 0; f < fitted.length; f++) {
    var el = fitted[f];
    var gap = parseFloat(el.getAttribute("data-w")) - el.getBoundingClientRect().width;
    el.style.letterSpacing = (gap / el.textContent.length) + "px";
}
</script>
</body>
</html>
